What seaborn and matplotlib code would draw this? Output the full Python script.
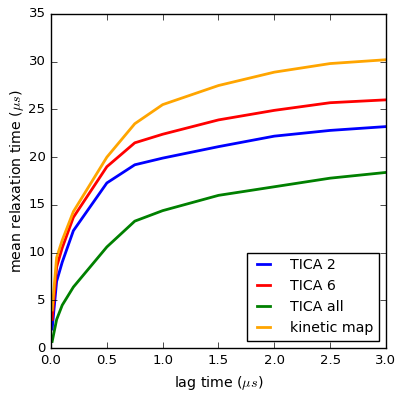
import numpy as np
import pandas as pd
import seaborn as sns
import matplotlib
matplotlib.use("Agg")
import matplotlib.pyplot as plt

lag = [0.01, 0.05, 0.1, 0.2, 0.5, 0.75, 1.0, 1.5, 2.0, 2.5, 3.0]
tica2 = [2.0, 7.0, 9.0, 12.3, 17.3, 19.2, 19.9, 21.1, 22.2, 22.8, 23.2]
tica6 = [3.0, 8.5, 10.5, 13.7, 19.0, 21.5, 22.4, 23.9, 24.9, 25.7, 26.0]
tica_all = [0.7, 3.0, 4.5, 6.4, 10.6, 13.3, 14.4, 16.0, 16.9, 17.8, 18.4]
kinetic = [4.0, 9.5, 11.3, 14.3, 20.0, 23.5, 25.5, 27.5, 28.9, 29.8, 30.2]

names = ["TICA 2", "TICA 6", "TICA all", "kinetic map"]
colors = ["blue", "red", "green", "orange"]

frames = []
for name, vals in zip(names, [tica2, tica6, tica_all, kinetic]):
    frames.append(pd.DataFrame({"lag": lag, "t": vals, "method": name}))
df = pd.concat(frames, ignore_index=True)

plt.style.use("classic")
fig = plt.figure(figsize=(4.02, 3.97), dpi=100, facecolor="white")
ax = fig.add_axes([0.127, 0.123, 0.833, 0.842])
sns.lineplot(data=df, x="lag", y="t", hue="method", palette=colors,
             linewidth=2, ax=ax, sort=False)
ax.set_xlim(0, 3)
ax.set_ylim(0, 35)
ax.set_xticks([0.0, 0.5, 1.0, 1.5, 2.0, 2.5, 3.0])
ax.tick_params(labelsize=9.5)
ax.set_xlabel(r"lag time ($\mu s$)", fontsize=10.2)
ax.set_ylabel(r"mean relaxation time ($\mu s$)", fontsize=10.2, labelpad=2)
ax.legend(loc="lower right", fontsize=10.2, handlelength=1.5, handletextpad=1.1)
fig.savefig("out.png", dpi=100, facecolor="white")
